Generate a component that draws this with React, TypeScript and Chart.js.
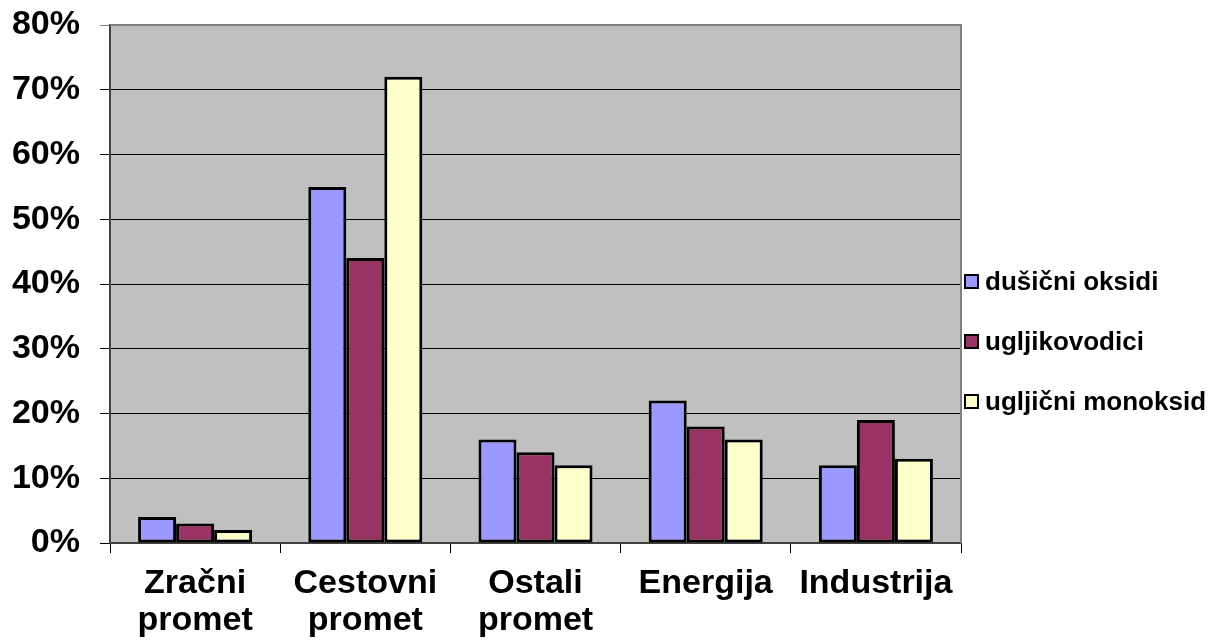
import React, { useEffect, useRef } from "react";
import { Chart, registerables } from "chart.js";

Chart.register(...registerables);

const categories: string[][] = [
  ["Zračni", "promet"],
  ["Cestovni", "promet"],
  ["Ostali", "promet"],
  ["Energija"],
  ["Industrija"],
];
const seriesNames = ["dušični oksidi", "ugljikovodici", "ugljični monoksid"];
const dusicniOksidi = [4, 55, 16, 22, 12];
const ugljikovodici = [3, 44, 14, 18, 19];
const ugljicniMonoksid = [2, 72, 12, 16, 13];
const seriesColors = ["#9999FF", "#993366", "#FFFFCC"];
const yTicks = [0, 10, 20, 30, 40, 50, 60, 70, 80];

const FONT = "Arial, 'Liberation Sans', sans-serif";

const plotDecor = {
  id: "plotDecor",
  beforeDraw(chart: any) {
    const { ctx, chartArea: a } = chart;
    ctx.save();
    ctx.fillStyle = "#C0C0C0";
    ctx.fillRect(a.left, a.top, a.right - a.left, a.bottom - a.top);
    ctx.restore();
  },
  afterDraw(chart: any) {
    const { ctx, chartArea: a } = chart;
    ctx.save();
    ctx.strokeStyle = "#808080";
    ctx.lineWidth = 2;
    ctx.beginPath();
    ctx.moveTo(a.left, a.top);
    ctx.lineTo(a.right, a.top);
    ctx.lineTo(a.right, a.bottom);
    ctx.stroke();
    // legend
    const ds = chart.data.datasets;
    const x0 = 965;
    const ys = [282, 342, 402];
    ctx.font = `bold 26px ${FONT}`;
    ctx.textBaseline = "middle";
    ctx.textAlign = "left";
    ds.forEach((d: any, i: number) => {
      const y = ys[i];
      ctx.fillStyle = d.backgroundColor;
      ctx.fillRect(x0, y - 7, 13, 13);
      ctx.strokeStyle = "#000";
      ctx.lineWidth = 2;
      ctx.strokeRect(x0, y - 7, 13, 13);
      ctx.fillStyle = "#000";
      ctx.fillText(d.label, x0 + 20, y + 1);
    });
    ctx.restore();
  },
};

export default function App() {
  const ref = useRef<HTMLCanvasElement>(null);
  useEffect(() => {
    document.body.style.margin = "0";
    const chart = new Chart(ref.current!, {
      type: "bar",
      data: {
        labels: categories,
        datasets: [dusicniOksidi, ugljikovodici, ugljicniMonoksid].map((vals, i) => ({
          label: seriesNames[i],
          data: vals,
          backgroundColor: seriesColors[i],
          borderColor: "#000",
          borderWidth: 3,
          borderSkipped: false,
          barPercentage: 1,
          categoryPercentage: 0.67,
        })),
      },
      options: {
        responsive: false,
        animation: false,
        devicePixelRatio: 1,
        layout: { padding: { top: 25, right: 252, left: 0, bottom: 0 } },
        plugins: { legend: { display: false }, tooltip: { enabled: false } },
        scales: {
          x: {
            grid: { drawOnChartArea: false, tickLength: 10, color: "#000", lineWidth: 1, offset: true },
            border: { color: "#404040", width: 2 },
            ticks: { color: "#000", font: { family: FONT, size: 34, weight: "bold", lineHeight: 1.1 }, padding: 12, maxRotation: 0 },
            afterFit: (s: any) => {
              s.height = 97;
              s.paddingLeft = 0;
              s.paddingRight = 0;
            },
          },
          y: {
            min: 0,
            max: 80,
            afterBuildTicks: (s: any) => { s.ticks = yTicks.map((v) => ({ value: v })); },
            grid: {
              tickLength: 10,
              color: (c: any) => (c.tick && c.tick.value === 80 ? "#808080" : "#000"),
              lineWidth: 1,
            },
            border: { color: "#404040", width: 2 },
            ticks: {
              color: "#000",
              font: { family: FONT, size: 34, weight: "bold" },
              padding: 20,
              callback: (v: any) => `${v}%`,
            },
            afterFit: (s: any) => {
              s.width = 110;
              s.paddingTop = 0;
              s.paddingBottom = 0;
            },
          },
        },
      },
      plugins: [plotDecor],
    });
    return () => chart.destroy();
  }, []);
  return (
    <div style={{ width: 1213, height: 640 }}>
      <canvas ref={ref} width={1213} height={640} />
    </div>
  );
}
